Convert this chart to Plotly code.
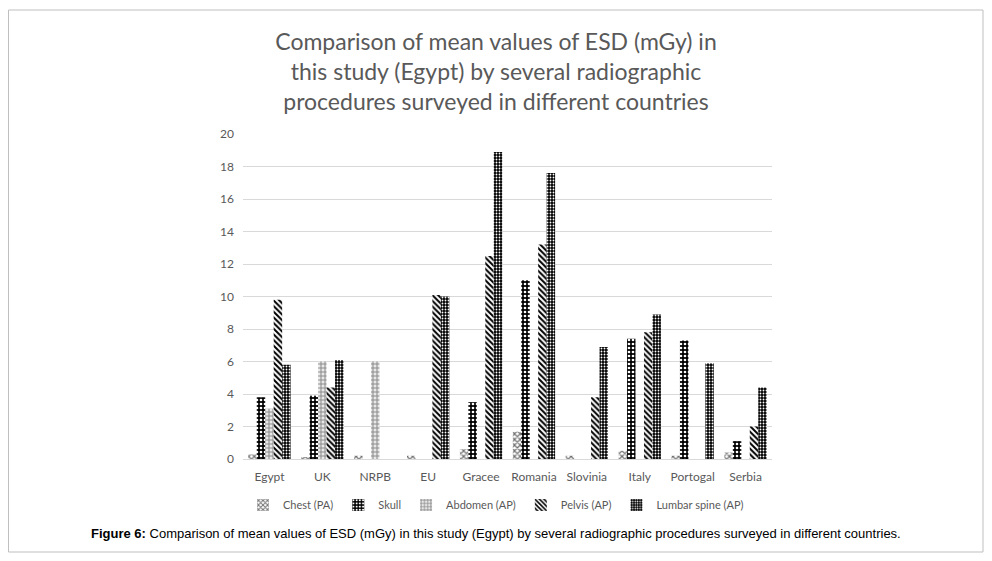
import plotly.graph_objects as go

categories = ["Egypt", "UK", "NRPB", "EU", "Gracee", "Romania", "Slovinia", "Italy", "Portogal", "Serbia"]
chest = [0.3, 0.1, 0.2, 0.2, 0.6, 1.7, 0.2, 0.5, 0.2, 0.4]
skull = [3.8, 3.9, None, None, 3.5, 11.0, None, 7.4, 7.3, 1.1]
abdomen = [3.1, 6.0, 6.0, None, None, None, None, None, None, None]
pelvis = [9.8, 4.4, None, 10.1, 12.5, 13.2, 3.8, 7.8, None, 2.0]
lumbar = [5.8, 6.1, None, 10.0, 18.9, 17.6, 6.9, 8.9, 5.9, 4.4]

series = [
    ("Chest (PA)", chest, dict(shape="x", fgcolor="#6f6f6f", bgcolor="#ffffff", size=4, solidity=0.5)),
    ("Skull", skull, dict(shape=".", fgcolor="#ffffff", bgcolor="#000000", size=4, solidity=0.35)),
    ("Abdomen (AP)", abdomen, dict(shape="+", fgcolor="#8c8c8c", bgcolor="#e8e8e8", size=4, solidity=0.45)),
    ("Pelvis (AP)", pelvis, dict(shape="\\", fgcolor="#000000", bgcolor="#ffffff", size=4, solidity=0.5)),
    ("Lumbar spine (AP)", lumbar, dict(shape=".", fgcolor="#ffffff", bgcolor="#000000", size=3, solidity=0.3)),
]

fig = go.Figure()
for name, vals, pat in series:
    fig.add_trace(go.Bar(
        name=name, x=categories, y=vals,
        marker=dict(color=pat["bgcolor"], line=dict(width=0),
                    pattern=dict(fillmode="replace", **pat)),
    ))

grey = "#595959"
W, H = 976, 545
L, T, R, B = 235, 126, 212, 94
pw, ph = W - L - R, H - T - B

def px(x):
    return (x - L) / pw

def py(y):
    return (H - B - y) / ph

fig.update_layout(
    width=W, height=H,
    paper_bgcolor="white", plot_bgcolor="white",
    margin=dict(l=L, r=R, t=T, b=B),
    barmode="group", bargap=0.2, bargroupgap=0,
    font=dict(family="Lato, Open Sans, sans-serif", color=grey, size=12),
    title=dict(
        text="Comparison of mean values of ESD (mGy) in<br>this study (Egypt) by several radiographic<br>procedures surveyed in different countries",
        x=0.5, xanchor="center", xref="container", y=1 - 42 / H, yanchor="top",
        font=dict(family="Lato, sans-serif", size=23, color=grey),
    ),
    xaxis=dict(showgrid=False, showline=True, linecolor="#d9d9d9", linewidth=1,
               ticks="", ticklabelstandoff=7, tickfont=dict(size=12, color=grey)),
    yaxis=dict(range=[0, 20], dtick=2, showgrid=True, gridcolor="#d9d9d9", gridwidth=1,
               zeroline=False, showline=False, ticks="", ticklabelstandoff=8,
               tickfont=dict(size=12, color=grey)),
    legend=dict(orientation="h", x=px(488), xanchor="center", y=-0.097, yanchor="top",
                font=dict(size=11, color=grey), itemwidth=30, traceorder="normal"),
    shapes=[dict(type="rect", xref="paper", yref="paper",
                 x0=px(0.5), x1=px(975), y0=py(544), y1=py(2),
                 line=dict(color="#bfbfbf", width=1), layer="below")],
    annotations=[dict(
        text="<b>Figure 6:</b> Comparison of mean values of ESD (mGy) in this study (Egypt) by several radiographic procedures surveyed in different countries.",
        xref="paper", yref="paper", x=px(488), y=py(525), xanchor="center", yanchor="middle",
        showarrow=False, font=dict(family="Liberation Sans, Arial, sans-serif", size=13, color="#000000"),
    )],
)

fig.write_html("out.html")
